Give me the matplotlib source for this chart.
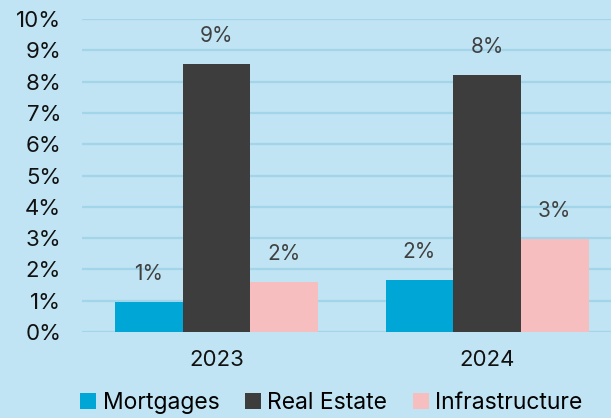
import numpy as np
import matplotlib.pyplot as plt
from matplotlib.ticker import PercentFormatter

plt.rcParams['font.family'] = ['Inter', 'DejaVu Sans']

years = ['2023', '2024']
series = ['Mortgages', 'Real Estate', 'Infrastructure']
mortgages = [0.95, 1.65]
real_estate = [8.57, 8.2]
infrastructure = [1.6, 2.98]
labels = [['1%', '2%'], ['9%', '8%'], ['2%', '3%']]
colors = ['#00A6D6', '#3D3D3D', '#F7BEC0']
bg = '#C0E4F3'


def main():
    fig = plt.figure(figsize=(6.11, 4.18), dpi=100, facecolor=bg)
    ax = fig.add_axes([82 / 611, 1 - 332 / 418, 1 - 82 / 611, (332 - 19) / 418])
    ax.set_facecolor(bg)

    x = np.arange(len(years))
    width = 0.25
    values = [mortgages, real_estate, infrastructure]
    for i, (name, vals) in enumerate(zip(series, values)):
        pos = x + (i - 1) * width
        ax.bar(pos, vals, width, color=colors[i], label=name, zorder=3)
        for px, v, lab in zip(pos, vals, labels[i]):
            ax.annotate(lab, (px, v), xytext=(0, 13), textcoords='offset points',
                        ha='center', va='bottom', fontsize=15, color='#404040')

    ax.set_ylim(0, 10)
    ax.set_yticks(range(0, 11))
    ax.yaxis.set_major_formatter(PercentFormatter(decimals=0))
    ax.set_xlim(-0.497, 1.458)
    ax.set_xticks(x)
    ax.set_xticklabels(years)
    ax.grid(axis='y', color='#A3D5EA', linewidth=1.6, zorder=0)
    ax.tick_params(axis='both', length=0, labelsize=16, colors='#111111')
    ax.tick_params(axis='y', pad=15)
    ax.tick_params(axis='x', pad=13)
    for s in ax.spines.values():
        s.set_visible(False)

    fig.legend(loc='lower center', bbox_to_anchor=(0.542, -0.04), ncol=3,
               frameon=False, fontsize=16.5, handlelength=0.7, handleheight=0.7,
               handletextpad=0.3, columnspacing=1.1)

    plt.savefig('out.png', dpi=100, facecolor=bg)


if __name__ == '__main__':
    main()
